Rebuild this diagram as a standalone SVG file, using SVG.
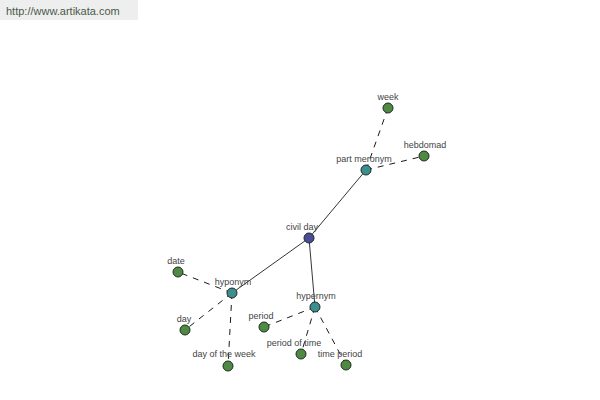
<svg xmlns="http://www.w3.org/2000/svg" width="600" height="400" viewBox="0 0 600 400">
<style>
.lbl{font-family:"Liberation Sans",Arial,sans-serif;font-size:9px;fill:#444;text-anchor:middle}
.n{stroke:#1e2a1e;stroke-width:1}
.leaf{fill:#4f8a45}
.rel{fill:#3d8f8f}
.root{fill:#4b4b9b}
.solid{stroke:#000;stroke-width:0.8;fill:none}
.dash{stroke:#000;stroke-width:0.9;fill:none;stroke-dasharray:6 6}
</style>
<rect x="0" y="0" width="138" height="20" fill="#eeeeee"/>
<text x="6" y="15" style="font-family:'Liberation Sans',Arial,sans-serif;font-size:11px;fill:#4a5a4a">http://www.artikata.com</text>
<g id="connectors">
<line class="solid" x1="309" y1="238" x2="366" y2="170"/>
<line class="solid" x1="309" y1="238" x2="232" y2="293"/>
<line class="solid" x1="309" y1="238" x2="315" y2="307"/>
<line class="dash" x1="366" y1="170" x2="388" y2="108"/>
<line class="dash" x1="366" y1="170" x2="424" y2="156"/>
<line class="dash" x1="232" y1="293" x2="178" y2="272"/>
<line class="dash" x1="232" y1="293" x2="185" y2="330"/>
<line class="dash" x1="232" y1="293" x2="228" y2="366"/>
<line class="dash" x1="315" y1="307" x2="264" y2="327"/>
<line class="dash" x1="315" y1="307" x2="301" y2="354"/>
<line class="dash" x1="315" y1="307" x2="346" y2="365"/>
</g>
<g id="civil-day"><circle class="n root" cx="309" cy="238" r="5"/><text class="lbl" x="302" y="230">civil day</text></g>
<g id="part-meronym"><circle class="n rel" cx="366" cy="170" r="5"/><text class="lbl" x="364" y="162">part meronym</text></g>
<g id="week"><circle class="n leaf" cx="388" cy="108" r="5"/><text class="lbl" x="388" y="100">week</text></g>
<g id="hebdomad"><circle class="n leaf" cx="424" cy="156" r="5"/><text class="lbl" x="425" y="148">hebdomad</text></g>
<g id="hyponym"><circle class="n rel" cx="232" cy="293" r="5"/><text class="lbl" x="233" y="285">hyponym</text></g>
<g id="date"><circle class="n leaf" cx="178" cy="272" r="5"/><text class="lbl" x="176" y="264">date</text></g>
<g id="day"><circle class="n leaf" cx="185" cy="330" r="5"/><text class="lbl" x="184" y="322">day</text></g>
<g id="day-of-the-week"><circle class="n leaf" cx="228" cy="366" r="5"/><text class="lbl" x="224" y="357">day of the week</text></g>
<g id="hypernym"><circle class="n rel" cx="315" cy="307" r="5"/><text class="lbl" x="316" y="299">hypernym</text></g>
<g id="period"><circle class="n leaf" cx="264" cy="327" r="5"/><text class="lbl" x="261" y="319">period</text></g>
<g id="period-of-time"><circle class="n leaf" cx="301" cy="354" r="5"/><text class="lbl" x="294" y="346">period of time</text></g>
<g id="time-period"><circle class="n leaf" cx="346" cy="365" r="5"/><text class="lbl" x="340" y="357">time period</text></g>
</svg>
